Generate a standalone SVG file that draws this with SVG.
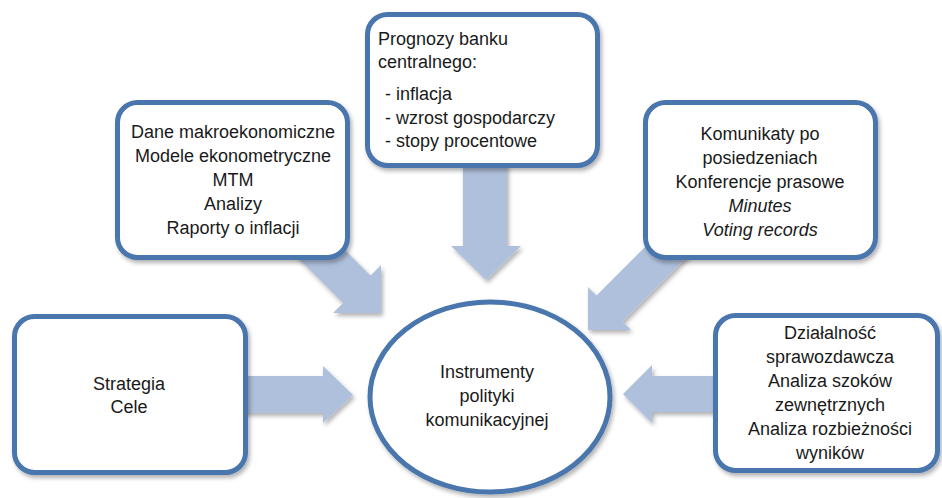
<svg xmlns="http://www.w3.org/2000/svg" width="942" height="498" viewBox="0 0 942 498">
<defs>
<filter id="sh" x="-10%" y="-10%" width="130%" height="130%">
<feDropShadow dx="2" dy="3" stdDeviation="2" flood-color="#000" flood-opacity="0.3"/>
</filter>
<style>
.box{fill:#ffffff;stroke:#4a76ad;stroke-width:5;filter:url(#sh)}
.arr{fill:#afc0dc;filter:url(#sh)}
text{font-family:"Liberation Sans",Arial,sans-serif;font-size:18px;fill:#1a1a1a}
.c{text-anchor:middle}
.i{font-style:italic}
</style>
</defs>
<rect width="942" height="498" fill="#ffffff"/>
<g id="connectors">
<polygon class="arr" points="240,376 323,376 323,366 353,395 323,423 323,413 240,413"/>
<polygon class="arr" points="720,376 652,376 652,365 623,394 652,423 652,412 720,412"/>
<polygon class="arr" points="463,160 507,160 507,246 521,246 486,280 451,246 463,246"/>
<polygon class="arr" points="317.5,222.5 370.5,275.5 381,265 381,313 333,313 343,303 290,250"/>
<polygon class="arr" points="671,221 596.5,295.5 588,287 588,330 631,330 622.5,321.5 697,247"/>
</g>
<g id="dane">
<rect class="box" x="117.5" y="102.5" width="230" height="155" rx="20"/>
<text class="c" x="233" y="138">Dane makroekonomiczne</text>
<text class="c" x="233" y="162">Modele ekonometryczne</text>
<text class="c" x="233" y="186">MTM</text>
<text class="c" x="233" y="210">Analizy</text>
<text class="c" x="233" y="234">Raporty o inflacji</text>
</g>
<g id="prognozy">
<rect class="box" x="367.5" y="14.5" width="230" height="151" rx="20"/>
<text x="378" y="45">Prognozy banku</text>
<text x="378" y="68">centralnego:</text>
<text x="385" y="100">- inflacja</text>
<text x="385" y="124">- wzrost gospodarczy</text>
<text x="385" y="147">- stopy procentowe</text>
</g>
<g id="komunikaty">
<rect class="box" x="645.5" y="102.5" width="230" height="155" rx="20"/>
<text class="c" x="760" y="140">Komunikaty po</text>
<text class="c" x="760" y="164">posiedzeniach</text>
<text class="c" x="760" y="188">Konferencje prasowe</text>
<text class="c i" x="760" y="212">Minutes</text>
<text class="c i" x="760" y="236">Voting records</text>
</g>
<g id="strategia">
<rect class="box" x="14.5" y="316.5" width="231" height="156" rx="20"/>
<text class="c" x="129" y="390">Strategia</text>
<text class="c" x="129" y="413">Cele</text>
</g>
<g id="dzialalnosc">
<rect class="box" x="715.5" y="315.5" width="222" height="155" rx="20"/>
<text class="c" x="830" y="339">Działalność</text>
<text class="c" x="830" y="363">sprawozdawcza</text>
<text class="c" x="830" y="387">Analiza szoków</text>
<text class="c" x="830" y="411">zewnętrznych</text>
<text class="c" x="830" y="435">Analiza rozbieżności</text>
<text class="c" x="830" y="459">wyników</text>
</g>
<g id="instrumenty">
<ellipse class="box" cx="490" cy="397" rx="120" ry="95"/>
<text class="c" x="487" y="378">Instrumenty</text>
<text class="c" x="487" y="402">polityki</text>
<text class="c" x="487" y="426">komunikacyjnej</text>
</g>
</svg>
